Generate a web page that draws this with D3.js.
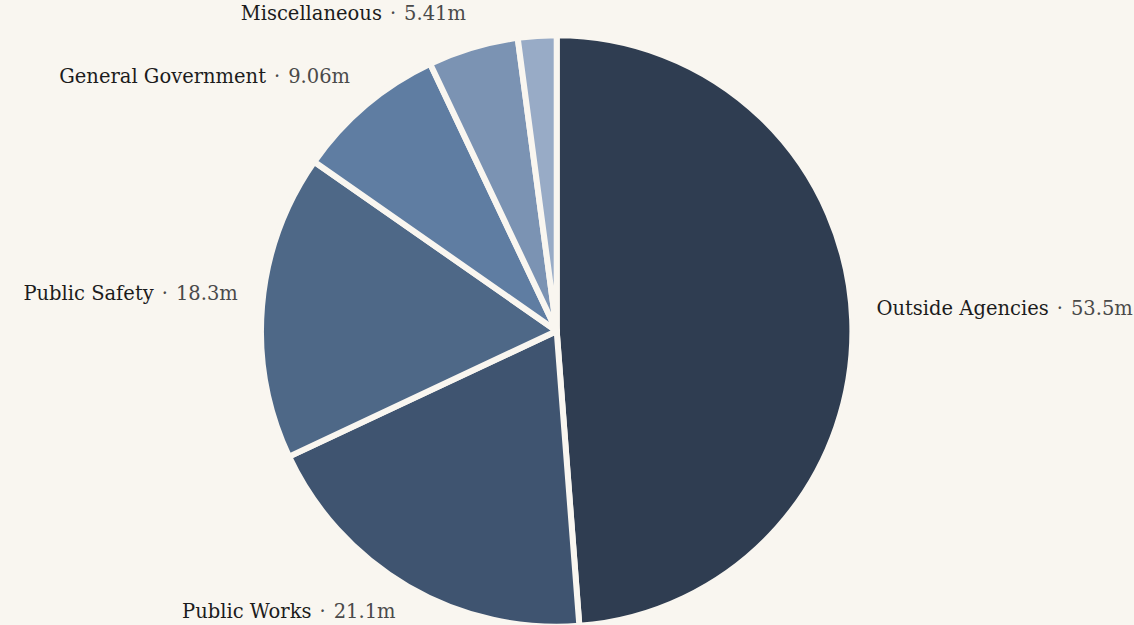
<!DOCTYPE html>
<html>
<head>
<meta charset="utf-8">
<script src="https://cdn.jsdelivr.net/npm/d3@7"></script>
<style>
  html, body { margin: 0; padding: 0; background: #f9f6f0; }
  svg { display: block; }
  .label { font-family: "DejaVu Serif", serif; font-size: 19.5px; }
  .label .name { fill: #1c1c1c; }
  .label .dot, .label .val { fill: #4a4a4a; }
</style>
</head>
<body>
<div id="chart"></div>
<script>
// budget by department, millions
const categories = ["Outside Agencies", "Public Works", "Public Safety", "General Government", "Miscellaneous", "Other"];
const values = [53.5, 21.1, 18.3, 9.06, 5.41, 2.31];
const colors = ["#2f3d51", "#3f5470", "#4e6887", "#5f7da2", "#7b93b3", "#98abc6"];

const width = 1134, height = 625;
const cx = 556.7, cy = 331;
const radius = 295.7;
const labelRadius = 320;

let data = categories.map((c, i) => ({ name: c, value: values[i], color: colors[i] }));

let svg = d3.select('#chart').append('svg')
  .attr('width', width)
  .attr('height', height);

let g = svg.append('g').attr('transform', `translate(${cx}, ${cy})`);

let pie = d3.pie().value(d => d.value).sort(null);
let arc = d3.arc().innerRadius(0).outerRadius(radius);
let labelArc = d3.arc().innerRadius(labelRadius).outerRadius(labelRadius);

let arcs = pie(data);

g.selectAll('.slice').data(arcs).enter()
  .append('path')
  .attr('class', 'slice')
  .attr('d', arc)
  .attr('fill', d => d.data.color)
  .attr('stroke', '#f9f6f0')
  .attr('stroke-width', 6)
  .attr('stroke-linejoin', 'round');

let fmt = d3.format('.3');

// labels, skip the slivers; bottom-half labels hang below the point
let labels = g.selectAll('.label').data(arcs.filter(d => d.endAngle - d.startAngle > 0.2)).enter()
  .append('text')
  .attr('class', 'label')
  .attr('transform', d => `translate(${labelArc.centroid(d)})`)
  .attr('dy', d => labelArc.centroid(d)[1] > 0 ? '0.55em' : '-0.2em')
  .attr('text-anchor', d => (d.startAngle + d.endAngle) / 2 < Math.PI ? 'start' : 'end');

labels.append('tspan').attr('class', 'name').text(d => d.data.name);
labels.append('tspan').attr('class', 'dot').attr('dx', 8).text('·');
labels.append('tspan').attr('class', 'val').attr('dx', 8).text(d => fmt(d.data.value) + 'm');
</script>
</body>
</html>
